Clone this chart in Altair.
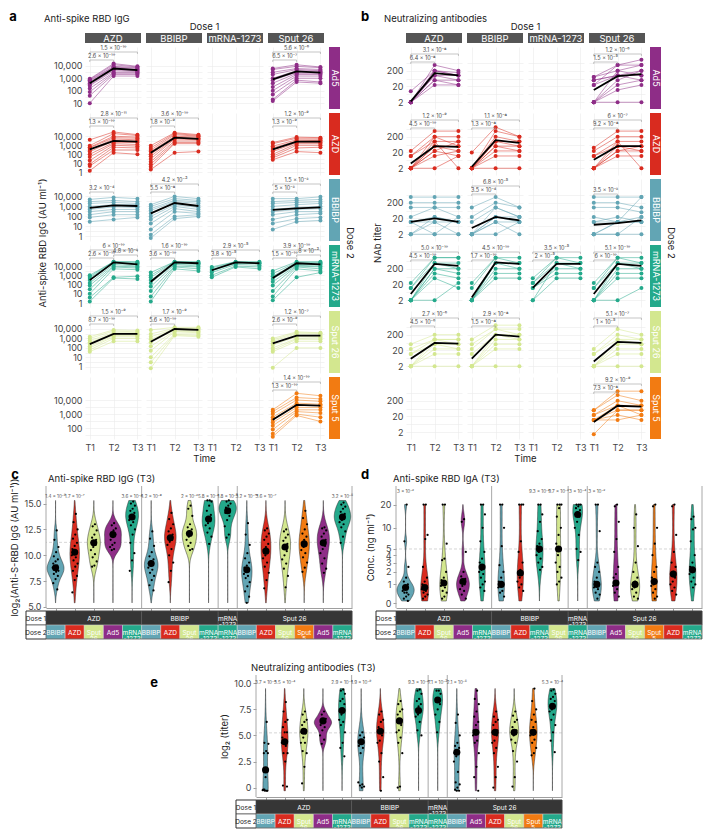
import json
import math
import altair as alt
import pandas as pd

FONT = "Inter"
SUP = str.maketrans("-0123456789", "⁻⁰¹²³⁴⁵⁶⁷⁸⁹")


def p(m, e):
    return f"{m} × 10{str(e).translate(SUP)}"


# ---------------------------------------------------------------- categories
VACCINES = ["Ad5", "AZD", "BBIBP", "mRNA-1273", "Sput 26", "Sput 5"]
VACCINE_COLORS = ["#8E2D87", "#D92B1F", "#62A5B4", "#24A98B", "#D3E78F", "#F27B12"]
COLOR = dict(zip(VACCINES, VACCINE_COLORS))
VSCALE = alt.Scale(domain=VACCINES, range=VACCINE_COLORS)
SHORT2 = {"Ad5": "Ad5", "AZD": "AZD", "BBIBP": "BBIBP", "mRNA-1273": "mRNA\n-1273",
          "Sput 26": "Sput\n26", "Sput 5": "Sput\n5"}
SHORT1 = {"AZD": "AZD", "BBIBP": "BBIBP", "mRNA-1273": "mRNA\n-1273", "Sput 26": "Sput 26"}
DOSE1 = ["AZD", "BBIBP", "mRNA-1273", "Sput 26"]
DOSE2 = ["Ad5", "AZD", "BBIBP", "mRNA-1273", "Sput 26", "Sput 5"]
TIME_POINTS = [1, 2, 3]

# ---------------------------------------------------------------- panel a: anti-spike RBD IgG (AU/ml), key = (dose 2, dose 1)
IGG_TRAJ = {
    ("Ad5", "AZD"): [(900, 15000, 9000), (800, 12000, 8000), (700, 9000, 7000), (600, 8000, 6000), (500, 7000, 5000),
                     (400, 6000, 4500), (300, 5000, 4000), (250, 4000, 3500), (150, 3000, 3000), (80, 2500, 2500),
                     (40, 2000, 2000), (10, 1500, 1500)],
    ("Ad5", "Sput 26"): [(6000, 12000, 8000), (5000, 9000, 7000), (3000, 6000, 5000), (2000, 5000, 4000),
                         (1000, 4000, 3500), (700, 3000, 3000), (400, 2500, 2500), (200, 2000, 2000),
                         (100, 1500, 1500), (50, 1000, 1000), (20, 700, 500), (15, 500, 400)],
    ("AZD", "AZD"): [(4000, 30000, 15000), (900, 20000, 12000), (600, 10000, 8000), (500, 7000, 6000),
                     (300, 5000, 4000), (200, 3000, 3000), (100, 2000, 2000), (50, 1500, 1200), (20, 1000, 800),
                     (8, 600, 500), (5, 300, 300), (1.5, 150, 100)],
    ("AZD", "BBIBP"): [(900, 25000, 15000), (500, 20000, 12000), (300, 15000, 10000), (200, 10000, 8000),
                       (100, 8000, 6000), (60, 6000, 5000), (30, 5000, 4000), (15, 3000, 3000), (8, 2000, 2000),
                       (4, 1500, 1500), (2, 150, 200)],
    ("AZD", "Sput 26"): [(2000, 8000, 7000), (1500, 6000, 6000), (800, 4000, 4000), (500, 3000, 3500),
                         (300, 2500, 2500), (200, 2000, 2000), (100, 1500, 1500), (60, 1000, 1000),
                         (40, 500, 600), (25, 200, 150)],
    ("BBIBP", "AZD"): [(5000, 8000, 6000), (3000, 4000, 3000), (2000, 2500, 2000), (1000, 1500, 1500),
                       (700, 1200, 1000), (500, 900, 800), (300, 500, 500), (150, 300, 300), (80, 150, 150),
                       (30, 50, 80)],
    ("BBIBP", "BBIBP"): [(1500, 10000, 6000), (1000, 6000, 4000), (600, 4000, 3000), (400, 3000, 2000),
                         (200, 2000, 1200), (100, 1500, 800), (50, 1000, 500), (20, 600, 300), (5, 300, 200),
                         (1.5, 100, 150), (0.7, 60, 100)],
    ("BBIBP", "Sput 26"): [(6000, 6000, 9000), (3000, 4000, 5000), (2000, 2500, 3000), (1000, 1500, 2000),
                           (500, 800, 1000), (300, 500, 600), (150, 300, 300), (50, 150, 200), (20, 60, 80),
                           (5, 30, 40)],
    ("mRNA-1273", "AZD"): [(1000, 30000, 30000), (700, 30000, 25000), (500, 25000, 20000), (300, 20000, 15000),
                           (150, 15000, 10000), (80, 10000, 8000), (30, 8000, 6000), (10, 5000, 4000),
                           (4, 600, 800), (1.5, 500, 400)],
    ("mRNA-1273", "BBIBP"): [(2000, 30000, 30000), (1000, 30000, 25000), (600, 25000, 20000), (300, 20000, 18000),
                             (150, 18000, 15000), (60, 15000, 10000), (20, 10000, 8000), (5, 8000, 5000),
                             (1.5, 5000, 3000)],
    ("mRNA-1273", "mRNA-1273"): [(8000, 30000, 30000), (6000, 28000, 25000), (4000, 25000, 20000),
                                 (3000, 20000, 18000), (2000, 15000, 12000), (1000, 10000, 8000),
                                 (600, 8000, 5000)],
    ("mRNA-1273", "Sput 26"): [(3000, 30000, 30000), (1500, 25000, 25000), (800, 20000, 20000),
                               (400, 15000, 15000), (200, 12000, 10000), (80, 10000, 8000), (20, 8000, 5000),
                               (5, 5000, 3000), (2, 600, 2000)],
    ("Sput 26", "AZD"): [(1500, 8000, 7000), (1000, 6000, 5000), (600, 4000, 4000), (400, 3000, 3000),
                         (250, 2500, 2500), (150, 2000, 2000), (100, 1500, 1500), (60, 1000, 1000),
                         (40, 500, 500)],
    ("Sput 26", "BBIBP"): [(8000, 15000, 15000), (3000, 12000, 12000), (1500, 10000, 10000), (800, 9000, 8000),
                           (400, 8000, 6000), (150, 6000, 5000), (50, 5000, 4000), (10, 3000, 3000),
                           (3, 2500, 2000), (0.7, 2000, 1500)],
    ("Sput 26", "Sput 26"): [(1000, 5000, 4000), (700, 4000, 3500), (500, 3000, 3000), (300, 2000, 2000),
                             (200, 1500, 1500), (100, 1000, 1200), (60, 800, 800), (40, 500, 500),
                             (0.8, 100, 100)],
    ("Sput 5", "Sput 26"): [(2000, 30000, 20000), (1500, 15000, 12000), (1000, 10000, 8000), (600, 6000, 5000),
                            (400, 4500, 4000), (250, 3000, 3000), (150, 2000, 2000), (80, 1500, 1200),
                            (40, 1000, 600), (25, 800, 300)],
}
IGG_MEAN = {
    ("Ad5", "AZD"): (400, 6000, 4500), ("Ad5", "Sput 26"): (800, 3500, 2800),
    ("AZD", "AZD"): (350, 3000, 2500), ("AZD", "BBIBP"): (150, 7000, 5000), ("AZD", "Sput 26"): (350, 2500, 2500),
    ("BBIBP", "AZD"): (700, 1300, 1100), ("BBIBP", "BBIBP"): (200, 2200, 1100), ("BBIBP", "Sput 26"): (450, 650, 800),
    ("mRNA-1273", "AZD"): (300, 25000, 15000), ("mRNA-1273", "BBIBP"): (200, 25000, 20000),
    ("mRNA-1273", "mRNA-1273"): (3500, 25000, 20000), ("mRNA-1273", "Sput 26"): (500, 20000, 15000),
    ("Sput 26", "AZD"): (250, 3000, 3000), ("Sput 26", "BBIBP"): (450, 10000, 8000),
    ("Sput 26", "Sput 26"): (300, 2000, 2000), ("Sput 5", "Sput 26"): (400, 4500, 4000),
}
IGG_STATS = {
    ("Ad5", "AZD"): [(1, 3, p(1.5, -10)), (1, 2, p(2.6, -10))],
    ("Ad5", "Sput 26"): [(1, 3, p(5.6, -6)), (1, 2, p(6.5, -7))],
    ("AZD", "AZD"): [(1, 3, p(2.8, -11)), (1, 2, p(1.3, -10))],
    ("AZD", "BBIBP"): [(1, 3, p(3.6, -10)), (1, 2, p(1.8, -9))],
    ("AZD", "Sput 26"): [(1, 3, p(1.2, -9)), (1, 2, p(1.3, -9))],
    ("BBIBP", "AZD"): [(1, 2, p(3.2, -4))],
    ("BBIBP", "BBIBP"): [(1, 3, p(4.2, -3)), (1, 2, p(5.5, -8))],
    ("BBIBP", "Sput 26"): [(1, 3, p(1.5, -2)), (1, 2, p(5, -2))],
    ("mRNA-1273", "AZD"): [(1, 3, p(6, -10)), (2, 3, p(4.8, -2)), (1, 2, p(2.6, -10))],
    ("mRNA-1273", "BBIBP"): [(1, 3, p(1.6, -10)), (1, 2, p(3.6, -10))],
    ("mRNA-1273", "mRNA-1273"): [(1, 3, p(2.9, -5)), (1, 2, p(3.8, -5))],
    ("mRNA-1273", "Sput 26"): [(1, 3, p(3.9, -10)), (2, 3, p(8, -3)), (1, 2, p(1.5, -10))],
    ("Sput 26", "AZD"): [(1, 3, p(1.5, -9)), (1, 2, p(8.7, -10))],
    ("Sput 26", "BBIBP"): [(1, 3, p(1.7, -9)), (1, 2, p(5.6, -10))],
    ("Sput 26", "Sput 26"): [(1, 3, p(1.2, -7)), (1, 2, p(2.6, -9))],
    ("Sput 5", "Sput 26"): [(1, 3, p(1.4, -10)), (1, 2, p(1.3, -10))],
}
IGG_DOMAIN = {"Ad5": (3.4, 3.2e5), "AZD": (0.5, 3.8e6), "BBIBP": (0.35, 5.5e5),
              "mRNA-1273": (0.37, 1.9e6), "Sput 26": (0.22, 8e5), "Sput 5": (17, 4.3e5)}
IGG_MAJOR = [1, 10, 100, 1000, 10000]
IGG_MINOR = [3.162, 31.62, 316.2, 3162]

# ---------------------------------------------------------------- panel b: NAb titer
NAB_TRAJ = {
    ("Ad5", "AZD"): [(2, 450, 200), (10, 200, 100), (2, 200, 150), (2, 100, 100), (2, 100, 50), (2, 50, 50),
                     (2, 50, 25), (2, 25, 25), (2, 200, 100)],
    ("Ad5", "Sput 26"): [(80, 450, 1000), (80, 200, 450), (50, 100, 200), (25, 100, 100), (2, 50, 200),
                         (2, 25, 50), (2, 200, 100), (2, 12, 25), (2, 2, 2), (50, 100, 50), (25, 450, 450)],
    ("AZD", "AZD"): [(25, 450, 450), (12, 200, 200), (12, 100, 100), (2, 50, 50), (2, 25, 100), (2, 50, 25),
                     (2, 25, 12), (2, 12, 25), (2, 2, 12), (2, 100, 2), (2, 200, 50)],
    ("AZD", "BBIBP"): [(20, 800, 200), (2, 450, 200), (2, 200, 100), (2, 100, 100), (2, 100, 50), (2, 50, 50),
                       (2, 50, 25), (2, 25, 25), (2, 12, 12), (2, 2, 2)],
    ("AZD", "Sput 26"): [(40, 450, 450), (25, 200, 200), (12, 100, 100), (12, 50, 50), (2, 50, 25), (2, 25, 50),
                         (2, 25, 25), (2, 12, 12), (2, 100, 2)],
    ("BBIBP", "AZD"): [(450, 450, 450), (200, 200, 200), (100, 100, 100), (25, 100, 25), (12, 25, 12),
                       (12, 12, 12), (2, 25, 12), (2, 2, 2), (12, 2, 25), (2, 12, 2)],
    ("BBIBP", "BBIBP"): [(100, 450, 100), (25, 200, 100), (12, 100, 25), (2, 25, 25), (2, 25, 12), (2, 12, 12),
                         (2, 12, 2), (2, 2, 12), (2, 100, 25)],
    ("BBIBP", "Sput 26"): [(450, 450, 450), (200, 200, 100), (100, 100, 50), (25, 12, 25), (12, 12, 12),
                           (2, 12, 12), (2, 2, 2), (2, 12, 450), (12, 25, 12), (2, 2, 25)],
    ("mRNA-1273", "AZD"): [(25, 1000, 1000), (12, 1000, 1000), (12, 450, 450), (2, 450, 200), (2, 200, 200),
                           (2, 200, 100), (2, 100, 50), (2, 50, 12), (2, 2, 25)],
    ("mRNA-1273", "BBIBP"): [(25, 1000, 1000), (12, 1000, 450), (2, 450, 450), (2, 450, 200), (2, 200, 200),
                             (2, 100, 100), (2, 50, 50)],
    ("mRNA-1273", "mRNA-1273"): [(50, 1000, 1000), (25, 450, 450), (25, 1000, 450), (12, 200, 200),
                                 (12, 100, 100), (2, 450, 200), (2, 50, 50)],
    ("mRNA-1273", "Sput 26"): [(25, 1000, 1000), (12, 1000, 450), (12, 450, 450), (2, 450, 200), (2, 200, 200),
                               (2, 100, 100), (2, 50, 50), (2, 2, 12)],
    ("Sput 26", "AZD"): [(50, 200, 200), (25, 100, 100), (12, 100, 50), (12, 50, 50), (2, 50, 25), (2, 25, 25),
                         (2, 12, 12), (2, 2, 2), (2, 100, 100)],
    ("Sput 26", "BBIBP"): [(100, 800, 800), (50, 450, 450), (25, 450, 200), (12, 200, 100), (2, 200, 200),
                           (2, 100, 100), (2, 50, 50), (2, 25, 25), (2, 2, 2)],
    ("Sput 26", "Sput 26"): [(25, 450, 200), (12, 200, 100), (12, 100, 100), (2, 100, 50), (2, 50, 50),
                             (2, 25, 25), (2, 12, 12), (2, 2, 2)],
    ("Sput 5", "Sput 26"): [(50, 800, 800), (50, 450, 200), (25, 200, 100), (25, 100, 100), (12, 50, 50),
                            (12, 100, 25), (12, 25, 12), (1.5, 50, 50), (12, 12, 25)],
}
NAB_MEAN = {
    ("Ad5", "AZD"): (2.3, 140, 100), ("Ad5", "Sput 26"): (12, 90, 120),
    ("AZD", "AZD"): (4, 50, 45), ("AZD", "BBIBP"): (2.5, 120, 80), ("AZD", "Sput 26"): (7, 50, 50),
    ("BBIBP", "AZD"): (12, 20, 12), ("BBIBP", "BBIBP"): (5, 25, 15), ("BBIBP", "Sput 26"): (8, 10, 15),
    ("mRNA-1273", "AZD"): (5, 400, 300), ("mRNA-1273", "BBIBP"): (3, 500, 400),
    ("mRNA-1273", "mRNA-1273"): (12, 400, 400), ("mRNA-1273", "Sput 26"): (5, 400, 300),
    ("Sput 26", "AZD"): (6, 60, 55), ("Sput 26", "BBIBP"): (6, 200, 150),
    ("Sput 26", "Sput 26"): (4, 70, 60), ("Sput 5", "Sput 26"): (9, 95, 83),
}
NAB_STATS = {
    ("Ad5", "AZD"): [(1, 3, p(3.1, -8)), (1, 2, p(6.4, -8))],
    ("Ad5", "Sput 26"): [(1, 3, p(1.2, -6)), (1, 2, p(1.5, -5))],
    ("AZD", "AZD"): [(1, 3, p(1.2, -9)), (1, 2, p(4.5, -10))],
    ("AZD", "BBIBP"): [(1, 3, p(1.1, -8)), (1, 2, p(1.3, -8))],
    ("AZD", "Sput 26"): [(1, 3, p(6, -7)), (1, 2, p(9.2, -8))],
    ("BBIBP", "BBIBP"): [(1, 3, p(6.8, -5)), (1, 2, p(3.5, -4))],
    ("BBIBP", "Sput 26"): [(1, 2, p(3.5, -2))],
    ("mRNA-1273", "AZD"): [(1, 3, p("5.0", -10)), (1, 2, p(4.5, -10))],
    ("mRNA-1273", "BBIBP"): [(1, 3, p(4.5, -10)), (1, 2, p(1.7, -10))],
    ("mRNA-1273", "mRNA-1273"): [(1, 3, p(3.5, -5)), (1, 2, p(2, -5))],
    ("mRNA-1273", "Sput 26"): [(1, 3, p(5.1, -10)), (1, 2, p(6, -10))],
    ("Sput 26", "AZD"): [(1, 3, p(2.7, -6)), (1, 2, p(4.5, -6))],
    ("Sput 26", "BBIBP"): [(1, 3, p(2.9, -8)), (1, 2, p(1.5, -8))],
    ("Sput 26", "Sput 26"): [(1, 3, p(5.1, -7)), (1, 2, p(1, -5))],
    ("Sput 5", "Sput 26"): [(1, 3, p(9.2, -9)), (1, 2, p(7.3, -8))],
}
NAB_DOMAIN = {k: (0.75, 6300) for k in DOSE2}
NAB_MAJOR = [2, 20, 200]
NAB_MINOR = [6.32, 63.2, 632]

# ---------------------------------------------------------------- panel c: log2 anti-S-RBD IgG at T3 (dose 1, dose 2)
C_ORDER = [("AZD", "BBIBP"), ("AZD", "AZD"), ("AZD", "Sput 26"), ("AZD", "Ad5"), ("AZD", "mRNA-1273"),
           ("BBIBP", "BBIBP"), ("BBIBP", "AZD"), ("BBIBP", "Sput 26"), ("BBIBP", "mRNA-1273"),
           ("mRNA-1273", "mRNA-1273"),
           ("Sput 26", "BBIBP"), ("Sput 26", "AZD"), ("Sput 26", "Sput 26"), ("Sput 26", "Sput 5"),
           ("Sput 26", "Ad5"), ("Sput 26", "mRNA-1273")]
C_POINTS = [
    [12.4, 11.5, 10.8, 10.3, 9.9, 9.6, 9.4, 9.2, 9.0, 8.9, 8.8, 8.7, 8.6, 8.5, 8.4, 8.2, 8.0, 7.7, 7.3, 6.7],
    [14.0, 13.2, 12.5, 12.0, 11.6, 11.2, 10.9, 10.6, 10.4, 10.2, 10.0, 9.8, 9.5, 9.2, 8.9, 8.5, 8.0, 7.6, 6.4],
    [13.0, 12.8, 12.4, 12.0, 11.7, 11.5, 11.3, 11.2, 11.0, 10.8, 10.5, 10.1, 9.8, 9.4, 9.0, 8.9],
    [13.1, 12.9, 12.6, 12.4, 12.2, 12.0, 11.8, 11.5, 11.2, 11.0, 10.8, 10.6, 10.5],
    [15.2, 15.0, 14.8, 14.5, 14.3, 14.1, 13.9, 13.8, 13.7, 13.6, 13.4, 13.2, 12.9, 12.5, 12.0, 11.2, 10.2, 9.5, 8.5],
    [12.3, 11.6, 10.9, 10.3, 9.9, 9.6, 9.4, 9.2, 9.1, 9.0, 8.8, 8.6, 8.3, 8.0, 7.6, 7.1, 6.6],
    [14.1, 13.5, 13.0, 12.6, 12.3, 12.0, 11.8, 11.7, 11.5, 11.3, 11.0, 10.6, 10.0, 9.3, 8.5, 7.4],
    [14.8, 14.5, 13.8, 13.0, 12.7, 12.5, 12.3, 12.1, 12.0, 11.8, 11.5, 11.2, 10.9, 10.6, 10.5],
    [15.3, 15.3, 15.2, 14.8, 14.3, 13.9, 13.6, 13.5, 13.3, 13.1, 12.9, 12.6, 12.2, 11.8, 11.1],
    [15.3, 15.2, 15.0, 14.8, 14.6, 14.4, 14.3, 14.1, 13.8, 13.4, 12.8, 12.0, 11.7],
    [13.1, 12.0, 11.0, 10.2, 9.7, 9.3, 9.0, 8.8, 8.6, 8.4, 8.2, 8.0, 7.8, 7.4, 7.0, 6.5, 6.0, 5.4],
    [12.6, 12.4, 12.1, 11.8, 11.5, 11.1, 10.8, 10.5, 10.3, 10.0, 9.7, 9.3, 8.9, 8.3, 7.6, 6.8],
    [12.5, 12.3, 12.0, 11.7, 11.4, 11.1, 10.9, 10.7, 10.4, 10.0, 9.6, 9.2, 8.7, 8.0, 6.9],
    [14.3, 13.6, 13.0, 12.5, 12.1, 11.8, 11.5, 11.2, 11.0, 10.8, 10.5, 10.2, 9.8, 9.3, 8.8, 8.4],
    [12.7, 12.6, 12.4, 12.1, 11.8, 11.5, 11.3, 11.1, 10.9, 10.6, 10.2, 9.7, 9.2, 8.7, 8.3],
    [15.1, 14.9, 14.7, 14.5, 14.2, 14.0, 13.8, 13.7, 13.6, 13.4, 13.2, 13.0, 12.7, 12.3, 11.8, 11.2],
]
C_MEANS = [8.8, 10.3, 11.2, 12.0, 13.7, 9.2, 11.7, 12.1, 13.5, 14.3, 8.6, 10.4, 10.8, 11.1, 11.2, 13.7]
C_STATS = [(1, p(1.4, -5)), (2, p(1.7, -7)), (5, p(3.6, -4)), (6, p(4.2, -8)), (8, p(2, -2)), (9, p(5.8, -4)),
           (10, p(1.8, -3)), (11, p(3.2, -10)), (12, p(3.6, -7)), (16, p(3.2, -5))]
C_REF = 11.25

# ---------------------------------------------------------------- panel d: anti-spike RBD IgA at T3 (ng/ml)
D_ORDER = [("AZD", "BBIBP"), ("AZD", "AZD"), ("AZD", "Sput 26"), ("AZD", "Ad5"), ("AZD", "mRNA-1273"),
           ("BBIBP", "BBIBP"), ("BBIBP", "AZD"), ("BBIBP", "mRNA-1273"), ("BBIBP", "Sput 26"),
           ("mRNA-1273", "mRNA-1273"),
           ("Sput 26", "BBIBP"), ("Sput 26", "Ad5"), ("Sput 26", "Sput 26"), ("Sput 26", "Sput 5"),
           ("Sput 26", "AZD"), ("Sput 26", "mRNA-1273")]
D_POINTS = [
    [20, 6.5, 2.5, 1.5, 1.2, 1.0, 0.9, 0.8, 0.8, 0.7, 0.6, 0.5, 0.5, 0.4, 0.3, 0.2, 0.1],
    [20, 20, 8, 7, 2.5, 1.5, 1.2, 1.0, 0.9, 0.8, 0.7, 0.6, 0.5, 0.4, 0.3, 0.2],
    [20, 20, 6, 3.5, 3.3, 2.0, 1.5, 1.3, 1.1, 1.0, 0.9, 0.8, 0.6, 0.5, 0.3, 0.2],
    [13, 12, 4.5, 2.0, 1.6, 1.4, 1.2, 1.1, 1.0, 0.9, 0.7, 0.6, 0.4, 0.2],
    [20, 20, 15, 10, 6.5, 4.5, 3.5, 3.0, 2.5, 2.2, 2.0, 1.8, 1.5, 1.2, 1.0, 0.8, 0.6],
    [20, 20, 10, 5.5, 2.7, 2.0, 1.5, 1.2, 1.0, 0.9, 0.8, 0.6, 0.5, 0.3],
    [20, 20, 20, 6.5, 4.5, 3.0, 2.2, 2.0, 1.8, 1.5, 1.2, 1.0, 0.8, 0.6],
    [20, 20, 15, 12, 9, 7, 6, 5.5, 5, 4.5, 4, 3.5, 3, 2.5, 2.2],
    [20, 20, 20, 18, 14, 10, 8, 6, 5, 4, 3, 2.5, 2, 1.5, 1.2, 1.0],
    [20, 20, 20, 19, 18, 17, 16, 15, 14, 12, 10, 8, 5, 4.5, 3.3],
    [20, 20, 9, 3.0, 2.5, 2.0, 1.5, 1.2, 1.0, 0.9, 0.8, 0.7, 0.5, 0.4, 0.2],
    [20, 19, 12, 7, 4.5, 2.5, 1.8, 1.5, 1.2, 1.0, 0.9, 0.7, 0.5, 0.3],
    [15, 10, 5.5, 3.0, 2.0, 1.5, 1.2, 1.0, 0.9, 0.8, 0.7, 0.5, 0.3, 0.2],
    [20, 19, 10, 6, 4, 2.5, 2.0, 1.5, 1.2, 1.0, 0.9, 0.7, 0.5, 0.3, 0.2],
    [20, 19, 8, 4.5, 3.0, 2.5, 2.0, 1.8, 1.5, 1.2, 1.0, 0.8, 0.6, 0.4],
    [14, 13, 10, 9.5, 6.5, 4.0, 3.0, 2.5, 2.2, 2.0, 1.8, 1.5, 1.2, 1.0, 0.8],
]
D_MEANS = [0.8, 0.8, 1.1, 1.2, 2.5, 1.0, 1.9, 5.0, 5.0, 15, 1.0, 1.1, 1.0, 1.2, 1.8, 2.2]
D_STATS = [(1, p(3, -2)), (8, p(9.3, -2)), (9, p(9.7, -2)), (10, p(3, -4)), (11, p(3, -2))]
D_REF = 5
SYMLOG_C = 1.5

# ---------------------------------------------------------------- panel e: log2 NAb titer at T3
E_ORDER = [("AZD", "BBIBP"), ("AZD", "AZD"), ("AZD", "Sput 26"), ("AZD", "Ad5"), ("AZD", "mRNA-1273"),
           ("BBIBP", "BBIBP"), ("BBIBP", "AZD"), ("BBIBP", "Sput 26"), ("BBIBP", "mRNA-1273"),
           ("mRNA-1273", "mRNA-1273"),
           ("Sput 26", "BBIBP"), ("Sput 26", "Ad5"), ("Sput 26", "AZD"), ("Sput 26", "Sput 26"),
           ("Sput 26", "Sput 5"), ("Sput 26", "mRNA-1273")]
E_POINTS = [
    [6.3, 4.3, 4.2, 3.5, 3.3, 3.3, 1.0, -0.2, -0.3, -0.3, -0.25, -0.3, -0.2],
    [8.2, 7.3, 6.5, 6.3, 5.8, 5.3, 5.3, 4.8, 4.4, 4.3, 4.3, 4.0, 3.3, 3.3, 2.5, 0.2, 0.1],
    [7.3, 7.0, 6.5, 6.3, 6.0, 5.5, 5.3, 5.3, 5.2, 4.8, 4.3, 4.3, 3.5, 3.3, 2.0, 0.4],
    [7.3, 7.0, 6.6, 6.4, 6.3, 6.3, 6.2, 6.0, 5.8, 5.5, 5.0, 4.6, 4.2],
    [9.4, 9.3, 9.0, 8.5, 8.3, 8.0, 7.5, 7.3, 7.3, 7.0, 6.5, 6.3, 6.0, 5.3, 4.3, 3.8, 3.0],
    [5.3, 5.0, 4.8, 4.5, 4.4, 4.3, 4.2, 4.0, 3.8, 3.3, 0.5, 0.3, 0.2, 0.1, 0.0],
    [7.3, 7.0, 6.5, 6.3, 5.8, 5.5, 5.3, 5.3, 5.0, 4.5, 4.3, 3.3, 2.5, 1.0, -0.3],
    [8.3, 8.0, 7.5, 7.3, 7.0, 6.5, 6.3, 6.3, 6.0, 5.5, 5.3, 4.8, 4.3, 3.3, 0.1, 0.0],
    [9.4, 9.3, 9.0, 8.5, 8.3, 8.0, 7.8, 7.5, 7.3, 7.0, 6.8, 6.3, 5.5, 5.0],
    [9.3, 9.3, 9.0, 8.5, 8.3, 8.0, 7.5, 7.0, 6.3, 5.3],
    [7.0, 6.2, 5.0, 4.3, 4.0, 3.8, 3.5, 3.3, 3.3, 3.0, 2.5, 1.5, 0.5, 0.3, 0.0, -0.2, -0.3, -0.3],
    [9.3, 8.5, 8.0, 7.3, 6.8, 6.3, 6.0, 5.5, 5.3, 5.3, 5.0, 4.5, 4.3, 3.3, 2.0, 1.0, -0.3],
    [7.3, 6.8, 6.5, 6.3, 6.0, 5.5, 5.3, 5.3, 5.0, 4.5, 4.3, 3.8, 3.3, 2.0, 1.0, 0.0],
    [7.3, 6.9, 6.5, 6.3, 5.8, 5.5, 5.3, 5.3, 5.3, 5.0, 4.6, 4.3, 3.5, 2.5, 1.0, 0.1],
    [9.5, 8.3, 7.5, 7.0, 6.5, 6.3, 5.8, 5.5, 5.3, 5.3, 5.0, 4.6, 4.3, 3.8, 3.3, 3.1],
    [9.4, 9.3, 9.0, 8.7, 8.5, 8.3, 8.0, 7.8, 7.8, 7.5, 7.3, 7.0, 6.5, 6.0, 5.3, 4.5, 3.4],
]
E_MEANS = [1.7, 4.4, 5.4, 6.4, 7.4, 4.4, 5.4, 6.4, 7.4, 8.4, 3.4, 5.3, 5.3, 5.3, 5.3, 7.8]
E_STATS = [(1, p(3.7, -4)), (2, p(3.5, -4)), (5, p(2.9, -4)), (6, p(1.9, -9)), (9, p(9.3, -4)),
           (10, p(7.1, -3)), (11, p(2.1, -5)), (16, p(5.3, -4))]
E_REF = 5.25

# ================================================================ layout constants
CELL_W, CELL_H = 56, 62
STRIP_W, STRIP_H = 11, 10
VW, VH = 306, 122
TAB_Y = VH + 3


def txt(s, x, y, size=9.5, color="#222222", weight="normal", align="center", angle=0, baseline="middle"):
    return alt.Chart(pd.DataFrame({"t": [s]})).mark_text(
        fontSize=size, color=color, fontWeight=weight, align=align, baseline=baseline, angle=angle
    ).encode(text="t:N", x=alt.value(x), y=alt.value(y))


def top_pad(y):
    """Invisible rule that keeps a little room above the panel letters."""
    return alt.Chart(pd.DataFrame({"t": [""]})).mark_rule(opacity=0).encode(
        x=alt.value(0), y=alt.value(y), y2=alt.value(y + 1))


def grid_cell(traj, mean, stats, color, dom, majors, minors, show_y, show_x, br_py, extra):
    lo, hi = dom
    llo, lhi = math.log10(lo), math.log10(hi)
    xs = alt.Scale(domain=[0.8, 3.15], nice=False, zero=False)
    ys = alt.Scale(type="log", domain=[lo, hi], nice=False)
    maj = [v for v in majors if lo <= v <= hi]
    vals = sorted(maj + [v for v in minors if lo <= v <= hi])
    expr = "indexof(" + json.dumps(maj) + ", datum.value) >= 0 ? format(datum.value, ',') : ''"
    ya = alt.Axis(values=vals, labels=show_y, labelExpr=expr, ticks=False, domain=False, grid=True,
                  title=None, labelPadding=3, labelOverlap=False)
    xa = alt.Axis(values=TIME_POINTS, labels=show_x, labelExpr="'T' + datum.value", ticks=False,
                  domain=False, grid=True, title=None, labelPadding=4)

    def XY(xf, yf):
        return dict(x=alt.X(xf, scale=xs, axis=xa), y=alt.Y(yf, scale=ys, axis=ya))

    layers = []
    if traj:
        rows = [{"id": i, "t": t, "v": v} for i, tr in enumerate(traj) for t, v in zip(TIME_POINTS, tr)]
        df = pd.DataFrame(rows)
        layers.append(alt.Chart(df).mark_line(color=color, strokeWidth=0.6, opacity=0.85)
                      .encode(detail="id:N", **XY("t:Q", "v:Q")))
        layers.append(alt.Chart(df).mark_circle(color=color, size=16, opacity=1).encode(**XY("t:Q", "v:Q")))
        mdf = pd.DataFrame({"t": TIME_POINTS, "v": list(mean)})
        layers.append(alt.Chart(mdf).mark_line(color="black", strokeWidth=1.8).encode(**XY("t:Q", "v:Q")))
    else:
        empty = pd.DataFrame({"t": pd.Series([], dtype=float), "v": pd.Series([], dtype=float)})
        layers.append(alt.Chart(empty).mark_point(opacity=0).encode(**XY("t:Q", "v:Q")))
    if stats:
        def vy(py):
            return 10 ** (lhi - py / CELL_H * (lhi - llo))
        seg, tks, labs = [], [], []
        for a, b, lab in stats:
            py = br_py[(a, b)]
            seg.append({"a": a, "b": b, "y": vy(py)})
            tks.append({"a": a, "y": vy(py), "y2": vy(py + 2)})
            tks.append({"a": b, "y": vy(py), "y2": vy(py + 2)})
            labs.append({"a": (a + b) / 2, "y": vy(py - 0.7), "lab": lab})
        layers.append(alt.Chart(pd.DataFrame(seg)).mark_rule(color="#a0a0a0", strokeWidth=0.6)
                      .encode(x2="b:Q", **XY("a:Q", "y:Q")))
        layers.append(alt.Chart(pd.DataFrame(tks)).mark_rule(color="#a0a0a0", strokeWidth=0.6)
                      .encode(y2="y2:Q", **XY("a:Q", "y:Q")))
        layers.append(alt.Chart(pd.DataFrame(labs)).mark_text(fontSize=5.5, color="#4a4a4a", baseline="bottom")
                      .encode(text="lab:N", **XY("a:Q", "y:Q")))
    layers += extra
    return alt.layer(*layers).properties(width=CELL_W, height=CELL_H)


def col_strip(name, extra):
    d = pd.DataFrame({"t": [name]})
    rect = alt.Chart(d).mark_rect(color="#555555").encode(
        x=alt.value(0), x2=alt.value(CELL_W), y=alt.value(0), y2=alt.value(STRIP_H))
    t = alt.Chart(d).mark_text(color="white", fontSize=9.5, baseline="middle").encode(
        text="t:N", x=alt.value(CELL_W / 2), y=alt.value(STRIP_H / 2 + 0.5))
    return alt.layer(rect, t, *extra).properties(width=CELL_W, height=STRIP_H)


def row_strip(name, extra):
    d = pd.DataFrame({"t": [name]})
    rect = alt.Chart(d).mark_rect(color=COLOR[name]).encode(
        x=alt.value(0), x2=alt.value(STRIP_W), y=alt.value(0), y2=alt.value(CELL_H))
    t = alt.Chart(d).mark_text(color="white", fontSize=9, baseline="middle", angle=90).encode(
        text="t:N", x=alt.value(STRIP_W / 2), y=alt.value(CELL_H / 2))
    return alt.layer(rect, t, *extra).properties(width=STRIP_W, height=CELL_H)


def blank(w, h):
    return alt.Chart(pd.DataFrame({"t": [""]})).mark_text().encode(text="t:N").properties(width=w, height=h)


def grid_panel(traj_d, mean_d, stats_d, domains, majors, minors, letter, title, ytitle, br_py, hx):
    charts = []
    for j, d1 in enumerate(DOSE1):
        extra = []
        if j == 0:
            extra = [top_pad(-25),
                     txt(letter, hx["letter"], -16, size=13, weight="bold", color="black"),
                     txt(title, hx["title"], -14, size=9.5, align="left"),
                     txt("Dose 1", (4 * CELL_W + 3 * 5) / 2, -6, size=9.5)]
        charts.append(col_strip(d1, extra))
    charts.append(blank(STRIP_W, STRIP_H))
    for i, d2 in enumerate(DOSE2):
        for j, d1 in enumerate(DOSE1):
            key = (d2, d1)
            extra = []
            if i == 2 and j == 0:
                extra.append(txt(ytitle, hx["ytitle"], CELL_H + 2, size=9.5, angle=270))
            if i == 5 and j == 1:
                extra.append(txt("Time", CELL_W + 2.5, CELL_H + 20, size=9.5))
            charts.append(grid_cell(traj_d.get(key), mean_d.get(key), stats_d.get(key), COLOR[d2],
                                    domains[d2], majors, minors, j == 0, i == 5, br_py, extra))
        extra = [txt("Dose 2", STRIP_W + 10, CELL_H + 2, size=9.5, angle=90)] if i == 2 else []
        charts.append(row_strip(d2, extra))
    return alt.concat(*charts, columns=5, spacing={"row": 4, "column": 5}, bounds="flush")


def table_layers(order, X):
    """Dose 1 / Dose 2 table drawn under the violins, sharing their x scale."""
    n = len(order)
    d2 = pd.DataFrame({"idx": list(range(1, n + 1)), "d2": [o[1] for o in order],
                       "lab": [SHORT2[o[1]] for o in order]})
    spans, start = [], 1
    for k in range(1, n + 1):
        if k == n or order[k][0] != order[k - 1][0]:
            spans.append({"a": start - 0.5, "b": k + 0.5, "lab": SHORT1[order[k - 1][0]]})
            start = k + 1
    d1 = pd.DataFrame(spans)
    y0, y1, y2 = TAB_Y, TAB_Y + 14, TAB_Y + 28
    r1 = alt.Chart(d1).mark_rect(color="#363636", stroke="#5a5a5a", strokeWidth=0.6).encode(
        x=X("a:Q"), x2="b:Q", y=alt.value(y0), y2=alt.value(y1))
    t1 = alt.Chart(d1).transform_calculate(m="(datum.a + datum.b) / 2").mark_text(
        color="white", fontSize=6.5, lineBreak="\n", lineHeight=6.5, baseline="middle").encode(
        x=X("m:Q"), y=alt.value(y0 + 7.5), text="lab:N")
    r2 = alt.Chart(d2).transform_calculate(a="datum.idx - 0.5", b="datum.idx + 0.5").mark_rect(
        stroke="#d0d0d0", strokeWidth=0.5).encode(
        x=X("a:Q"), x2="b:Q", y=alt.value(y1), y2=alt.value(y2),
        color=alt.Color("d2:N", scale=VSCALE, legend=None))
    t2 = alt.Chart(d2).mark_text(color="white", fontSize=6.5, lineBreak="\n", lineHeight=6.5,
                                 baseline="middle").encode(x=X("idx:Q"), y=alt.value(y1 + 7.5), text="lab:N")
    lab = pd.DataFrame({"t": ["Dose 1"]})
    lab2 = pd.DataFrame({"t": ["Dose 2"]})
    c1 = alt.Chart(lab).mark_rect(fill="white", stroke="#333333", strokeWidth=0.6).encode(
        x=alt.value(-20), x2=alt.value(0), y=alt.value(y0), y2=alt.value(y1))
    c2 = alt.Chart(lab2).mark_rect(fill="white", stroke="#333333", strokeWidth=0.6).encode(
        x=alt.value(-20), x2=alt.value(0), y=alt.value(y1), y2=alt.value(y2))
    l1 = alt.Chart(lab).mark_text(fontSize=6.5, color="#222222").encode(
        text="t:N", x=alt.value(-10), y=alt.value(y0 + 7.5))
    l2 = alt.Chart(lab2).mark_text(fontSize=6.5, color="#222222").encode(
        text="t:N", x=alt.value(-10), y=alt.value(y1 + 7.5))
    border = alt.Chart(lab).mark_rect(fillOpacity=0, stroke="#333333", strokeWidth=0.6).encode(
        x=alt.value(-20), x2=alt.value(VW), y=alt.value(y0), y2=alt.value(y2))
    return [r1, t1, r2, t2, c1, c2, l1, l2, border]


def violin_panel(order, points, means, stats, ydom, yticks, ylabexpr, ytitle, ref, letter, title,
                 letter_x, letter_y, title_x, stats_y, symlog=False):
    n = len(order)
    rows = [{"idx": k + 1, "d2": o[1], "v": v} for k, (o, vals) in enumerate(zip(order, points)) for v in vals]
    df = pd.DataFrame(rows)
    xs = alt.Scale(domain=[0.5, n + 0.5], nice=False, zero=False)
    if symlog:
        ys = alt.Scale(type="symlog", constant=SYMLOG_C, domain=list(ydom), nice=False, zero=False)
    else:
        ys = alt.Scale(domain=list(ydom), nice=False, zero=False)
    xa = alt.Axis(values=list(range(1, n + 1)), labels=False, ticks=True, tickSize=3, domain=True,
                  grid=False, title=None)
    ya = alt.Axis(values=yticks, labelExpr=ylabexpr, title=ytitle, grid=False, ticks=True, tickSize=3,
                  domain=False, labelOverlap=False, labelPadding=2, titlePadding=4)
    X = lambda f: alt.X(f, scale=xs, axis=xa)
    Y = lambda f: alt.Y(f, scale=ys, axis=ya)
    base = alt.Chart(df)
    if symlog:
        dens = (base.transform_calculate(t=f"log(1 + datum.v / {SYMLOG_C})")
                .transform_density("t", groupby=["idx", "d2"], as_=["t", "density"], steps=80)
                .transform_calculate(v=f"{SYMLOG_C} * (exp(datum.t) - 1)"))
    else:
        dens = base.transform_density("v", groupby=["idx", "d2"], as_=["v", "density"], steps=80)
    dens = (dens.transform_joinaggregate(maxd="max(density)")
            .transform_calculate(left="datum.idx - 0.45 * datum.density / datum.maxd",
                                 right="datum.idx + 0.45 * datum.density / datum.maxd"))
    area = dens.mark_area(orient="horizontal", stroke="#2b2b2b", strokeWidth=0.5, opacity=1).encode(
        y=Y("v:Q"), x=X("left:Q"), x2="right:Q",
        color=alt.Color("d2:N", scale=VSCALE, legend=None), detail="idx:N")
    pts = (base.transform_window(rn="row_number()", groupby=["idx"])
           .transform_calculate(xj="datum.idx + ((datum.rn * 7) % 11 - 5) * 0.03")
           .mark_circle(size=5, color="black", opacity=1).encode(x=X("xj:Q"), y=Y("v:Q")))
    mdf = pd.DataFrame({"idx": list(range(1, n + 1)), "m": means})
    md = alt.Chart(mdf).mark_circle(size=50, color="black", opacity=1).encode(x=X("idx:Q"), y=Y("m:Q"))
    seps = [0.5] + [k + 0.5 for k in range(1, n) if order[k][0] != order[k - 1][0]] + [n + 0.5]
    sep = alt.Chart(pd.DataFrame({"s": seps})).mark_rule(color="#a8a8a8", strokeWidth=1).encode(
        x=X("s:Q"), y=alt.value(0), y2=alt.value(VH))
    rl = alt.Chart(pd.DataFrame({"r": [ref]})).mark_rule(color="#c4c4c4", strokeDash=[3, 2], strokeWidth=0.7).encode(
        y=Y("r:Q"))
    st = alt.Chart(pd.DataFrame(stats, columns=["idx", "lab"])).mark_text(fontSize=4.6, color="#555555").encode(
        x=X("idx:Q"), y=alt.value(stats_y), text="lab:N")
    lt = txt(letter, letter_x, letter_y, size=13, weight="bold", color="black")
    tt = txt(title, title_x, -7, size=9.5, align="left")
    return alt.layer(rl, sep, area, pts, md, st, *table_layers(order, X), lt, tt).properties(width=VW, height=VH)


# ================================================================ assemble
panel_a = grid_panel(IGG_TRAJ, IGG_MEAN, IGG_STATS, IGG_DOMAIN, IGG_MAJOR, IGG_MINOR, "a",
                     "Anti-spike RBD IgG", "Anti-spike RBD IgG (AU ml⁻¹)",
                     {(1, 3): 5, (1, 2): 13, (2, 3): 10}, {"letter": -72, "title": -41, "ytitle": -42})
panel_b = grid_panel(NAB_TRAJ, NAB_MEAN, NAB_STATS, NAB_DOMAIN, NAB_MAJOR, NAB_MINOR, "b",
                     "Neutralizing antibodies", "NAb titer",
                     {(1, 3): 7, (1, 2): 15, (2, 3): 11}, {"letter": -41, "title": -22, "ytitle": -28})

panel_c = violin_panel(C_ORDER, C_POINTS, C_MEANS, C_STATS, (4.9, 16.7), [5, 7.5, 10, 12.5, 15],
                       "format(datum.value, '.1f')", "log₂(Anti-S-RBD IgG (AU ml⁻¹))", C_REF,
                       "c", "Anti-spike RBD IgG (T3)", -31, -11, 2, 11)
panel_d = violin_panel(D_ORDER, D_POINTS, D_MEANS, D_STATS, (-0.2, 34), [0, 1, 2, 3, 4, 5, 10, 20],
                       "format(datum.value, 'd')", "Conc. (ng ml⁻¹)", D_REF,
                       "d", "Anti-spike RBD IgA (T3)", -31, -11, -3, 6, symlog=True)
panel_e = violin_panel(E_ORDER, E_POINTS, E_MEANS, E_STATS, (-0.9, 10.8), [0, 2.5, 5, 7.5, 10],
                       "datum.value == 0 ? '0' : format(datum.value, '.1f')", "log₂ (titer)", E_REF,
                       "e", "Neutralizing antibodies (T3)", -102, 8, -5, 8)

# every row starts with a thin blank so that all rows share the same left reference
top = alt.hconcat(blank(1, 1), alt.hconcat(panel_a, panel_b, spacing=5), spacing=0)
mid = alt.hconcat(blank(1, 1), alt.hconcat(panel_c, panel_d, spacing=6), spacing=0)
bot = alt.hconcat(blank(142, 1), panel_e, spacing=0)

chart = alt.vconcat(alt.vconcat(top, mid, spacing=5), bot, spacing=20).properties(padding=0)
chart = (chart.configure(font=FONT)
         .configure_view(stroke=None)
         .configure_axis(labelFont=FONT, titleFont=FONT, labelFontSize=9, labelColor="#444444",
                         titleFontSize=9.5, titleColor="#222222", titleFontWeight="normal",
                         gridColor="#ebebeb", gridWidth=0.6, domainColor="#9e9e9e", tickColor="#9e9e9e")
         .configure_text(font=FONT))

chart.save("out.html", embed_options={"renderer": "svg", "actions": False})
